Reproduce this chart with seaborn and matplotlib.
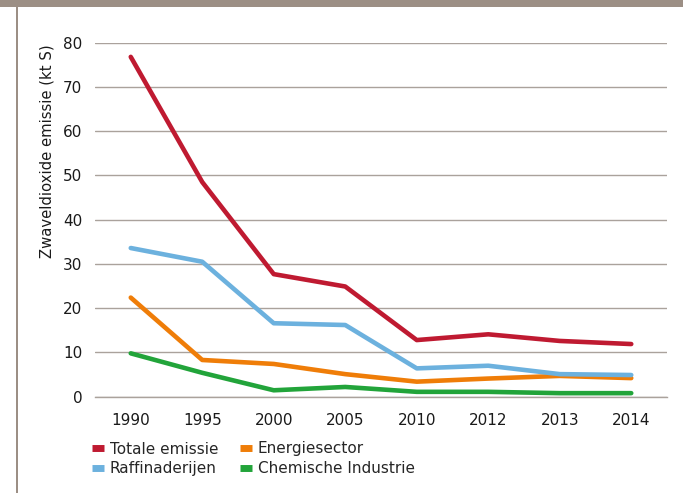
import pandas as pd
import matplotlib.pyplot as plt
import seaborn as sns
from matplotlib.lines import Line2D

# Data (kt S)
years = ["1990", "1995", "2000", "2005", "2010", "2012", "2013", "2014"]
totale = [76.8, 48.5, 27.7, 24.9, 12.8, 14.1, 12.6, 11.9]
raffinaderijen = [33.6, 30.5, 16.6, 16.2, 6.4, 7.0, 5.1, 4.9]
energiesector = [22.4, 8.3, 7.4, 5.1, 3.4, 4.1, 4.7, 4.2]
chemische = [9.8, 5.4, 1.45, 2.2, 1.1, 1.1, 0.8, 0.8]

series_names = ["Totale emissie", "Energiesector", "Raffinaderijen", "Chemische Industrie"]
series_values = [totale, energiesector, raffinaderijen, chemische]
colors = {"Totale emissie": "#bf1a31",
          "Energiesector": "#ef7d08",
          "Raffinaderijen": "#6cb1de",
          "Chemische Industrie": "#22a43a"}

rows = []
for name, vals in zip(series_names, series_values):
    for y, v in zip(years, vals):
        rows.append({"jaar": y, "emissie": v, "bron": name})
df = pd.DataFrame(rows)

sns.set_style("white")
plt.rcParams['font.family'] = ['DejaVu Sans']

grid_col = "#aaa29c"
border_col = "#9c8f85"

fig = plt.figure(figsize=(6.83, 4.93), dpi=100)
ax = fig.add_axes([95/683, (493-396.7)/493, (667-95)/683, (396.7-42.7)/493])

sns.lineplot(data=df, x="jaar", y="emissie", hue="bron", palette=colors,
             hue_order=series_names, sort=False, linewidth=3.3, legend=False, ax=ax)
for ln in ax.lines:
    ln.set_solid_capstyle("round")
    ln.set_solid_joinstyle("round")

ax.set_xlim(-0.5, len(years) - 0.5)
ax.set_ylim(0, 80)
ax.set_yticks(range(0, 81, 10))
ax.set_xlabel("")
ax.set_ylabel("")

for s in ["top", "right", "left"]:
    ax.spines[s].set_visible(False)
ax.spines["bottom"].set_color(grid_col)
ax.spines["bottom"].set_linewidth(1.0)
ax.yaxis.grid(True, color=grid_col, linewidth=1.0)
ax.set_axisbelow(True)

ax.tick_params(axis="y", length=0, pad=9, labelsize=11, labelcolor="#1a1a1a")
ax.tick_params(axis="x", direction="in", length=6, width=1, color=grid_col,
               pad=12, labelsize=11, labelcolor="#1a1a1a")

fig.text(47/683, (493-151)/493, "Zwaveldioxide emissie (kt S)", rotation=90,
         ha="center", va="center", fontsize=10.7, color="#1a1a1a")

# legend: two columns, small square-ish handles
legend_order = ["Totale emissie", "Raffinaderijen", "Energiesector", "Chemische Industrie"]
handles = [Line2D([], [], color=colors[n], lw=5, solid_capstyle="butt") for n in legend_order]
fig.legend(handles, legend_order, ncol=2, loc="upper left",
           bbox_to_anchor=(92/683, (493-441.5)/493), frameon=False, fontsize=11,
           handlelength=0.8, handletextpad=0.35, columnspacing=1.45,
           labelspacing=0.3, borderpad=0, borderaxespad=0)

# frame decorations: grey band on top, grey line at the left
fig.add_artist(plt.Rectangle((0, (493-7.3)/493), 1, 7.3/493, transform=fig.transFigure,
                             color=border_col, lw=0))
fig.add_artist(plt.Rectangle((16/683, 0), 2/683, (493-7.3)/493, transform=fig.transFigure,
                             color=border_col, lw=0))

fig.savefig("out.png", dpi=100)
